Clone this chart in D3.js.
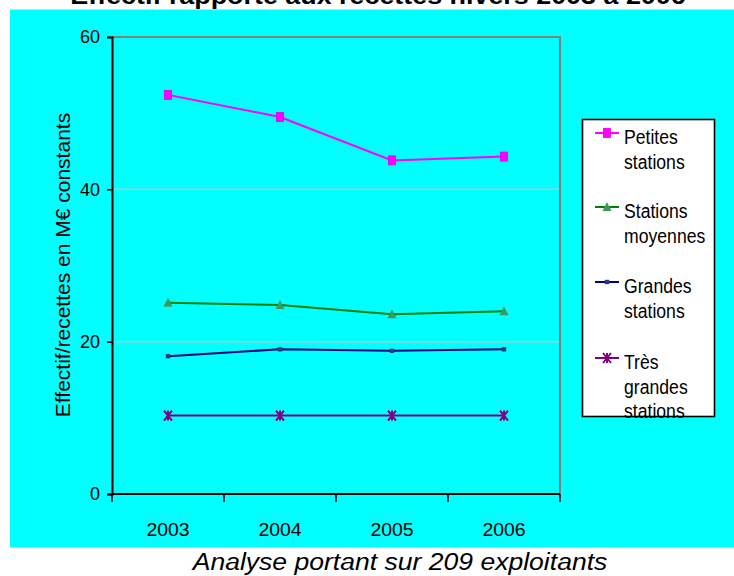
<!DOCTYPE html>
<html><head><meta charset="utf-8">
<script src="https://cdn.jsdelivr.net/npm/d3@7"></script>
<style>
html,body{margin:0;padding:0;background:#fff;}
text{font-family:"Liberation Sans",Arial,sans-serif;fill:#000;}
</style></head>
<body><svg id="c" width="734" height="576"></svg>
<script>
const years = ["2003","2004","2005","2006"];
const petites = [52.4, 49.5, 43.8, 44.3];
const moyennes = [25.1, 24.8, 23.6, 24.0];
const grandes = [18.1, 19.0, 18.8, 19.0];
const tresGrandes = [10.3, 10.3, 10.3, 10.3];
const yTicks = [0, 20, 40, 60];
const seriesNames = [["Petites","stations"],["Stations","moyennes"],["Grandes","stations"],["Très","grandes","stations"]];
const titleText = "Effectif rapporté aux recettes hivers 2003 à 2006";
const yLabel = "Effectif/recettes en M€ constants";
const subtitle = "Analyse portant sur 209 exploitants";

const series = [
  {name: seriesNames[0], values: petites, color: "#ff00ff", marker: "square"},
  {name: seriesNames[1], values: moyennes, color: "#008000", mfill: "#3c9a5e", marker: "triangle"},
  {name: seriesNames[2], values: grandes, color: "#000080", mfill: "#1f3f70", marker: "small"},
  {name: seriesNames[3], values: tresGrandes, color: "#800080", marker: "star"}
];

const svg = d3.select("#c");
svg.append("rect").attr("x",10).attr("y",9.5).attr("width",724).attr("height",538).attr("fill","#00ffff");

svg.append("text").attr("transform","translate(378,4) scale(1.12,1)")
  .attr("text-anchor","middle").attr("font-size",24).attr("font-weight","bold").text(titleText);

const L = 112, R = 560, T = 37, B = 494;
const x = d3.scaleBand().domain(years).range([L, R]).paddingInner(0).paddingOuter(0);
const y = d3.scaleLinear().domain([0, 60]).range([B, T]);

svg.append("g").selectAll("line").data(yTicks.filter(v => v > 0 && v < 60)).join("line")
  .attr("x1", L).attr("x2", R).attr("y1", d => y(d)).attr("y2", d => y(d))
  .attr("stroke", "#c0c0c0").attr("stroke-width", 1.5);
svg.append("path").attr("d", `M${L},${y(60)}H${R}V${B}`).attr("fill","none").attr("stroke","#808080").attr("stroke-width",2);

const yAxis = svg.append("g").attr("transform",`translate(${L},0)`)
  .call(d3.axisLeft(y).tickValues(yTicks).tickSize(5).tickPadding(7).tickFormat(d3.format("d")));
yAxis.select(".domain").attr("stroke","#000").attr("stroke-width",2);
yAxis.selectAll(".tick line").attr("stroke","#000").attr("stroke-width",1.5);
yAxis.selectAll(".tick text").attr("font-size",18).attr("font-family","Liberation Sans, Arial, sans-serif").attr("fill","#000");

const xAxis = svg.append("g").attr("transform",`translate(0,${B})`)
  .call(d3.axisBottom(x).tickSize(0).tickPadding(0));
xAxis.select(".domain").remove();
xAxis.selectAll(".tick text").attr("font-size",18).attr("font-family","Liberation Sans, Arial, sans-serif").attr("fill","#000")
  .attr("dy",null).attr("y",42).attr("transform","scale(1.08,1)");
svg.append("line").attr("x1",L).attr("x2",R).attr("y1",B).attr("y2",B).attr("stroke","#000").attr("stroke-width",2);
const bounds = years.map(d => x(d)).concat([x.range()[1]]);
svg.append("g").selectAll("line").data(bounds).join("line")
  .attr("x1",d=>d).attr("x2",d=>d).attr("y1",B).attr("y2",B+8).attr("stroke","#000").attr("stroke-width",1.5);

svg.append("text").attr("transform","translate(70,265) rotate(-90)").attr("text-anchor","middle")
  .attr("font-size",21).text(yLabel);

svg.append("text").attr("transform","translate(400,570) scale(1.13,1)").attr("text-anchor","middle")
  .attr("font-size",23.5).attr("font-style","italic").text(subtitle);

function drawMarker(g, type, color, fill, cx, cy){
  if(type==="square"){
    g.append("rect").attr("x",cx-3.5).attr("y",cy-4.5).attr("width",7).attr("height",9).attr("fill",color).attr("stroke","#e000e0").attr("stroke-width",0.8);
  } else if(type==="triangle"){
    g.append("path").attr("d",`M${cx},${cy-5}L${cx+4.5},${cy+4}L${cx-4.5},${cy+4}Z`).attr("fill",fill);
  } else if(type==="small"){
    g.append("rect").attr("x",cx-2.2).attr("y",cy-2.2).attr("width",4.4).attr("height",4.4).attr("fill",fill);
  } else if(type==="star"){
    g.append("path").attr("d",`M${cx-4},${cy-5}L${cx+4},${cy+5}M${cx+4},${cy-5}L${cx-4},${cy+5}M${cx},${cy-5}V${cy+5}`)
      .attr("stroke",color).attr("stroke-width",2).attr("fill","none");
  }
}

const line = d3.line().x((d,i) => x(years[i]) + x.bandwidth()/2).y(d => y(d));
series.forEach(s => {
  const g = svg.append("g");
  g.append("path").attr("d", line(s.values)).attr("fill","none").attr("stroke", s.color).attr("stroke-width", 2);
  s.values.forEach((v,i) => drawMarker(g, s.marker, s.color, s.mfill, x(years[i]) + x.bandwidth()/2, y(v)));
});

svg.append("rect").attr("x",582.5).attr("y",119.5).attr("width",132).attr("height",297)
  .attr("fill","#fff").attr("stroke","#000").attr("stroke-width",1.6);
const legY = [133, 207, 282, 358];
series.forEach((s, k) => {
  const g = svg.append("g");
  const ly = legY[k];
  g.append("line").attr("x1",595).attr("x2",619).attr("y1",ly).attr("y2",ly).attr("stroke",s.color).attr("stroke-width",2);
  drawMarker(g, s.marker, s.color, s.mfill, 607, ly);
  s.name.forEach((t, j) => {
    g.append("text").attr("transform",`translate(624,${ly + 11 + j*24.5}) scale(0.84,1)`)
      .attr("font-size",21).text(t);
  });
});
</script></body></html>
